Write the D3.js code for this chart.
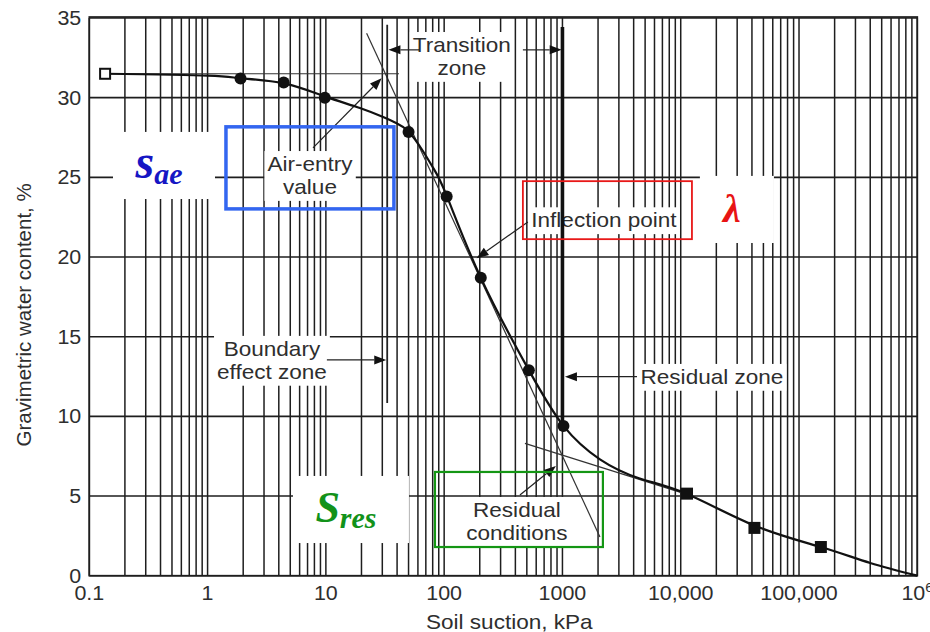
<!DOCTYPE html>
<html>
<head>
<meta charset="utf-8">
<script src="https://cdn.jsdelivr.net/npm/d3@7"></script>
<style>
body { margin: 0; background: #fff; }
svg { display: block; }
</style>
</head>
<body>
<div id="chart"></div>
<script>
// soil-water characteristic curve, suction in kPa vs gravimetric water content in %
const circlePts = [[1.9, 31.2], [4.4, 30.95], [9.8, 30.0], [50, 27.85], [105, 23.8], [204, 18.7], [520, 12.9], [1020, 9.4]]
const squarePts = [[11300, 5.15], [42000, 3.0], [153000, 1.8]]
const openPts = [[0.136, 31.5]]

const curvePts = [
	[0.136, 31.5], [1, 31.38], [1.9, 31.22], [4.4, 30.9], [9.8, 30.08], [19.4, 29.35], [30.5, 28.78],
	[39.6, 28.4], [50, 27.87], [66.5, 26.62], [80.9, 25.58], [105, 23.85], [204, 18.7], [520, 12.9],
	[1020, 9.4], [2075, 7.3], [4500, 6.1], [11300, 5.13], [42000, 3.15], [153000, 1.8],
	[400000, 0.8], [1000000, 0]
]

const xTicks = [0.1, 1, 10, 100, 1000, 1e4, 1e5, 1e6]
const xTickLabels = ['0.1', '1', '10', '100', '1000', '10,000', '100,000', '10^6']
const yTicks = [0, 5, 10, 15, 20, 25, 30, 35]

// construction lines (kPa, %)
const tangentLines = [
	[[0.136, 31.5], [41.5, 31.5]],
	[[22.1, 34.05], [2075, 2.43]],
	[[482, 8.3], [11300, 5.1]]
]
const airEntryLine = [[33, 34.57], [33, 10.84]]
const residualLine = [[1000, 34.44], [1000, 9.4]]

// arrows: from, to (kPa, %)
const arrows = [
	[[62, 33], [33.8, 33]],
	[[463, 33], [985, 33]],
	[[7.78, 26.85], [29.6, 31.22]],
	[[510, 22.2], [188, 19.92]],
	[[10.2, 13.54], [32.4, 13.54]],
	[[4270, 12.49], [1050, 12.49]],
	[[437, 5.07], [880, 6.89]]
]

const labels = [
	{ lines: ['Transition', 'zone'], at: [141, 33.3] },
	{ lines: ['Air-entry', 'value'], at: [7.34, 25.83] },
	{ lines: ['Inflection point'], at: [2244, 22.3] },
	{ lines: ['Boundary', 'effect zone'], at: [3.5, 14.23] },
	{ lines: ['Residual zone'], at: [18360, 12.47] },
	{ lines: ['Residual', 'conditions'], at: [412, 4.12] }
]

const frames = [
	{ x: [1.43, 37.6], y: [28.17, 23.02], color: '#3366f0', width: 3.5 },
	{ x: [463, 12440], y: [24.76, 21.12], color: '#e81818', width: 1.8 },
	{ x: [83.6, 2198], y: [6.51, 1.8], color: '#149614', width: 2.2 }
]

const symbols = [
	{ x: [0.1586, 1.155], y: [27.85, 23.64], main: 's', sub: 'ae', size: 48, color: '#1616c4' },
	{ x: [14520, 61380], y: [25.09, 20.88], main: 'λ', sub: '', size: 40, color: '#e81414' },
	{ x: [5.27, 50.4], y: [6.26, 2.05], main: 'S', sub: 'res', size: 44, color: '#12921a' }
]

const width = 930
const height = 632
const plot = { left: 89.3, right: 917.3, top: 18, bottom: 575.7 }
const ink = '#1e1e1e'
const textInk = '#2e2e2e'
const sans = '"Liberation Sans", Arial, sans-serif'
const stretch = 1.1

const svg = d3.select('#chart').append('svg').attr('width', width).attr('height', height)

const x = d3.scaleLog().domain([0.1, 1e6]).range([plot.left, plot.right])
const y = d3.scaleLinear().domain([0, 35]).range([plot.bottom, plot.top])

function sansText(sel, px, py, str, size, anchor) {
	return sel
		.append('text')
		.attr('transform', `translate(${px},${py}) scale(${stretch},1)`)
		.attr('text-anchor', anchor)
		.attr('font-family', sans)
		.attr('font-size', size)
		.attr('fill', textInk)
		.text(str)
}

// grid
const minorX = []
for (let e = -1; e < 6; e++) {
	for (let m = 1; m < 10; m++) minorX.push(m * Math.pow(10, e))
}
minorX.push(1e6)

svg
	.append('g')
	.selectAll('line')
	.data(minorX)
	.join('line')
	.attr('x1', (d) => x(d))
	.attr('x2', (d) => x(d))
	.attr('y1', plot.top)
	.attr('y2', plot.bottom)
	.attr('stroke', ink)
	.attr('stroke-width', 1.5)

svg
	.append('g')
	.selectAll('line')
	.data(yTicks)
	.join('line')
	.attr('x1', plot.left)
	.attr('x2', plot.right)
	.attr('y1', (d) => y(d))
	.attr('y2', (d) => y(d))
	.attr('stroke', ink)
	.attr('stroke-width', 1.6)

svg
	.append('rect')
	.attr('x', plot.left)
	.attr('y', plot.top - 1)
	.attr('width', plot.right - plot.left)
	.attr('height', plot.bottom - plot.top + 1)
	.attr('fill', 'none')
	.attr('stroke', ink)
	.attr('stroke-width', 1.7)

// tick labels
const tickG = svg.append('g')
yTicks.forEach((t) => sansText(tickG, plot.left - 8, y(t) + 7, String(t), 19.5, 'end'))
xTicks.forEach((t, i) => {
	const lab = xTickLabels[i]
	if (lab.includes('^')) {
		const [base, pow] = lab.split('^')
		const tx = sansText(tickG, x(t), plot.bottom + 24, base, 19.5, 'middle')
		tx.append('tspan').attr('dy', -8).attr('font-size', 13).text(pow)
	} else {
		sansText(tickG, x(t), plot.bottom + 24, lab, 19.5, 'middle')
	}
})

sansText(svg, (plot.left + plot.right) / 2 + 6, height - 3, 'Soil suction, kPa', 20.5, 'middle')
svg
	.append('text')
	.attr('transform', `translate(31,${(plot.top + plot.bottom) / 2 + 18}) rotate(-90)`)
	.attr('text-anchor', 'middle')
	.attr('font-family', sans)
	.attr('font-size', 20.5)
	.attr('fill', textInk)
	.text('Gravimetric water content, %')

// text labels with white knock-out behind them
const lineGap = 23
labels.forEach((lab) => {
	const g = svg.append('g')
	const cx = x(lab.at[0])
	const cy = y(lab.at[1])
	lab.lines.forEach((s, i) => sansText(g, cx, cy + i * lineGap + 7, s, 20.5, 'middle'))
	const bb = g.node().getBBox()
	g.insert('rect', 'text')
		.attr('x', bb.x - 3)
		.attr('y', bb.y - 2)
		.attr('width', bb.width + 6)
		.attr('height', bb.height + 4)
		.attr('fill', '#fff')
})

// white boxes for symbols
symbols.forEach((s) => {
	svg
		.append('rect')
		.attr('x', x(s.x[0]))
		.attr('y', y(s.y[0]))
		.attr('width', x(s.x[1]) - x(s.x[0]))
		.attr('height', y(s.y[1]) - y(s.y[0]))
		.attr('fill', '#fff')
})

// construction lines
const line = d3
	.line()
	.x((d) => x(d[0]))
	.y((d) => y(d[1]))

svg
	.append('g')
	.selectAll('path')
	.data(tangentLines)
	.join('path')
	.attr('d', line)
	.attr('fill', 'none')
	.attr('stroke', '#333')
	.attr('stroke-width', 1.2)

svg.append('path').attr('d', line(airEntryLine)).attr('stroke', '#222').attr('stroke-width', 1.8)
svg.append('path').attr('d', line(residualLine)).attr('stroke', '#111').attr('stroke-width', 3.6)

// arrows
const arrowG = svg.append('g')
arrows.forEach(([from, to]) => {
	const x0 = x(from[0])
	const y0 = y(from[1])
	const x1 = x(to[0])
	const y1 = y(to[1])
	const ang = Math.atan2(y1 - y0, x1 - x0)
	const len = 12
	const half = 4.5
	const bx = x1 - len * Math.cos(ang)
	const by = y1 - len * Math.sin(ang)
	arrowG
		.append('line')
		.attr('x1', x0)
		.attr('y1', y0)
		.attr('x2', bx)
		.attr('y2', by)
		.attr('stroke', '#222')
		.attr('stroke-width', 1.2)
	const nx = -Math.sin(ang) * half
	const ny = Math.cos(ang) * half
	arrowG
		.append('path')
		.attr('d', `M${x1},${y1}L${bx + nx},${by + ny}L${bx - nx},${by - ny}Z`)
		.attr('fill', '#111')
})

// fitted curve
svg
	.append('path')
	.datum(curvePts)
	.attr('d', line.curve(d3.curveNatural))
	.attr('fill', 'none')
	.attr('stroke', '#111')
	.attr('stroke-width', 2.2)

// measured points
svg
	.append('g')
	.selectAll('circle')
	.data(circlePts)
	.join('circle')
	.attr('cx', (d) => x(d[0]))
	.attr('cy', (d) => y(d[1]))
	.attr('r', 6)
	.attr('fill', '#111')

const sq = 12
svg
	.append('g')
	.selectAll('rect')
	.data(squarePts)
	.join('rect')
	.attr('x', (d) => x(d[0]) - sq / 2)
	.attr('y', (d) => y(d[1]) - sq / 2)
	.attr('width', sq)
	.attr('height', sq)
	.attr('fill', '#111')

svg
	.append('g')
	.selectAll('rect')
	.data(openPts)
	.join('rect')
	.attr('x', (d) => x(d[0]) - 5)
	.attr('y', (d) => y(d[1]) - 5)
	.attr('width', 10)
	.attr('height', 10)
	.attr('fill', '#fff')
	.attr('stroke', '#111')
	.attr('stroke-width', 2)

// coloured frames
frames.forEach((f) => {
	svg
		.append('rect')
		.attr('x', x(f.x[0]))
		.attr('y', y(f.y[0]))
		.attr('width', x(f.x[1]) - x(f.x[0]))
		.attr('height', y(f.y[1]) - y(f.y[0]))
		.attr('fill', 'none')
		.attr('stroke', f.color)
		.attr('stroke-width', f.width)
})

// symbols
symbols.forEach((s) => {
	const cx = (x(s.x[0]) + x(s.x[1])) / 2 - 5
	const cy = (y(s.y[0]) + y(s.y[1])) / 2 + 13
	const t = svg
		.append('text')
		.attr('x', cx)
		.attr('y', cy)
		.attr('text-anchor', 'middle')
		.attr('font-family', '"Liberation Serif", "DejaVu Serif", serif')
		.attr('font-style', 'italic')
		.attr('font-weight', 'bold')
		.attr('font-size', s.size)
		.attr('fill', s.color)
		.text(s.main)
	if (s.sub) {
		t.append('tspan').attr('dy', 6).attr('font-size', 30).text(s.sub)
	}
})
</script>
</body>
</html>
